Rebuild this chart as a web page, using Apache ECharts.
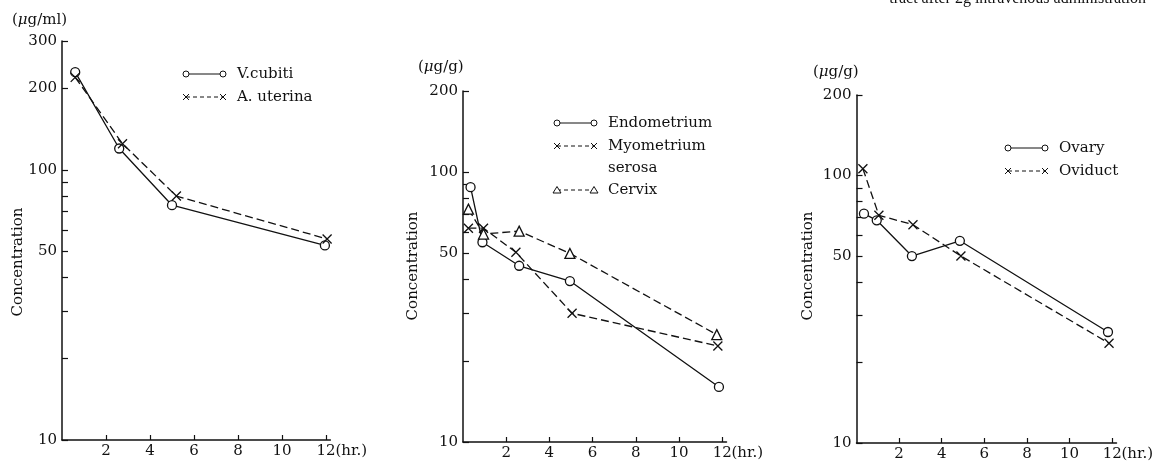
<!DOCTYPE html>
<html>
<head>
<meta charset="utf-8">
<script src="https://cdn.jsdelivr.net/npm/echarts@6/dist/echarts.min.js"></script>
<style>
  html, body { margin: 0; padding: 0; background: #fff; }
  #chart { width: 1157px; height: 464px; }
</style>
</head>
<body>
<div id="chart"></div>
<script>
// tick values
var xTicks = [2, 4, 6, 8, 10, 12];
var yTicks = [10, 20, 30, 40, 50, 60, 70, 80, 90, 100, 200, 300];
var yLabels1 = [10, 50, 100, 200, 300];
var yLabels23 = [10, 50, 100, 200];

// panel 1 : blood (ug/ml)
var vcubitiT = [0.6, 2.6, 5.0, 11.95];
var vcubiti = [230, 120, 74, 52.5];
var auterinaT = [0.6, 2.75, 5.2, 12.05];
var auterina = [220, 125, 80, 55.5];

// panel 2 : uterus (ug/g)
var endoT = [0.35, 0.9, 2.6, 4.95, 11.85];
var endo = [88, 55, 45, 39.5, 16];
var myoT = [0.25, 0.95, 2.45, 5.05, 11.8];
var myo = [62, 62, 50.5, 30, 22.7];
var cervixT = [0.25, 0.95, 2.6, 4.95, 11.75];
var cervix = [73, 59, 60.5, 50, 25];

// panel 3 : adnexa (ug/g)
var ovaryT = [0.35, 0.95, 2.6, 4.85, 11.8];
var ovary = [72, 68, 50, 57, 26];
var oviductT = [0.3, 1.05, 2.65, 4.9, 11.85];
var oviduct = [106, 71, 65.5, 50, 23.6];

var FONT = 'DejaVu Serif';
var INK = '#111';
var CROSS = 'path://M0,0L10,10M10,0L0,10';

function pts(t, v) {
  return t.map(function (x, i) { return [x, Math.log10(v[i])]; });
}
function lg(arr, max) {
  return arr.filter(function (v) { return v <= max + 0.01; }).map(Math.log10);
}

function xAxisFor(i) {
  return {
    type: 'value', gridIndex: i, min: 0, max: 12.2,
    axisLine: { lineStyle: { color: INK, width: 1.5 } },
    axisTick: { inside: true, length: 5, customValues: xTicks, lineStyle: { color: INK, width: 1.2 } },
    axisLabel: { customValues: xTicks, margin: 4, color: INK, fontFamily: FONT, fontSize: 15 },
    splitLine: { show: false },
    name: '(hr.)', nameLocation: 'end', nameGap: 5, nameMoveOverlap: false,
    nameTextStyle: { color: INK, fontFamily: FONT, fontSize: 15, verticalAlign: 'top', padding: [4, 0, 0, 0] }
  };
}
function yAxisFor(i, max, labels) {
  return {
    type: 'value', gridIndex: i, min: 1, max: Math.log10(max),
    axisLine: { show: true, lineStyle: { color: INK, width: 1.5 } },
    axisTick: { show: true, inside: true, length: 6, customValues: lg(yTicks, max), lineStyle: { color: INK, width: 1.2 } },
    axisLabel: {
      customValues: labels.map(Math.log10), margin: 5, color: INK, fontFamily: FONT, fontSize: 15,
      formatter: function (v) { return Math.round(Math.pow(10, v)); }
    },
    splitLine: { show: false }
  };
}

function line(i, name, data, kind, dashed) {
  var s = {
    name: name, type: 'line', xAxisIndex: i, yAxisIndex: i, data: data,
    lineStyle: { color: INK, width: 1.3, type: dashed ? [8, 4] : 'solid' },
    symbolSize: 9, z: 3
  };
  if (kind === 'circle') {
    s.symbol = 'circle';
    s.itemStyle = { color: '#fff', borderColor: INK, borderWidth: 1.3 };
  } else if (kind === 'triangle') {
    s.symbol = 'triangle'; s.symbolSize = 10;
    s.itemStyle = { color: '#fff', borderColor: INK, borderWidth: 1.3 };
  } else {
    s.symbol = CROSS; s.symbolSize = 9;
    s.itemStyle = { color: INK, borderColor: INK, borderWidth: 1.3 };
  }
  return s;
}

// hand drawn legend keys like the paper figure
function marker(kind, cx, cy) {
  if (kind === 'circle') {
    return [{ type: 'circle', shape: { cx: cx, cy: cy, r: 3 }, style: { fill: '#fff', stroke: INK, lineWidth: 1 }, z: 10 }];
  }
  if (kind === 'triangle') {
    return [{ type: 'polygon', shape: { points: [[cx, cy - 3.5], [cx + 4, cy + 3], [cx - 4, cy + 3]] }, style: { fill: '#fff', stroke: INK, lineWidth: 1 }, z: 10 }];
  }
  return [
    { type: 'line', shape: { x1: cx - 3, y1: cy - 3, x2: cx + 3, y2: cy + 3 }, style: { stroke: INK, lineWidth: 1 }, z: 10 },
    { type: 'line', shape: { x1: cx + 3, y1: cy - 3, x2: cx - 3, y2: cy + 3 }, style: { stroke: INK, lineWidth: 1 }, z: 10 }
  ];
}
function legendKey(x, y, kind, dashed, text) {
  var out = [{ type: 'line', shape: { x1: x, y1: y, x2: x + 37, y2: y }, style: { stroke: INK, lineWidth: 1, lineDash: dashed ? [4, 3] : null }, z: 9 }];
  out = out.concat(marker(kind, x, y), marker(kind, x + 37, y));
  out.push({ type: 'text', x: x + 51, y: y, style: { text: text, fill: INK, font: '15px "' + FONT + '"', verticalAlign: 'middle' }, z: 10 });
  return out;
}
function vtitle(x, y) {
  return { type: 'text', x: x, y: y, rotation: Math.PI / 2, style: { text: 'Concentration', fill: INK, font: '15px "' + FONT + '"', align: 'center', verticalAlign: 'middle' } };
}
function unit(x, y, u) {
  return {
    type: 'text', x: x, y: y,
    style: { text: '({m|μ}' + u + ')', fill: INK, font: '15px "' + FONT + '"', verticalAlign: 'middle',
      rich: { m: { fontStyle: 'italic', fontFamily: FONT, fontSize: 15 } } }
  };
}

var graphics = [
  // caption line of the page, cut off at the top edge
  { type: 'text', x: 1146, y: -9, style: { text: 'tract after 2g intravenous administration', fill: INK, font: '16px "Liberation Serif"', align: 'right' } },
  vtitle(18, 262), vtitle(413, 266), vtitle(808, 266),
  unit(12, 20, 'g/ml'), unit(418, 67, 'g/g'), unit(813, 72, 'g/g')
];
graphics = graphics
  .concat(legendKey(186, 74, 'circle', false, 'V.cubiti'))
  .concat(legendKey(186, 97, 'cross', true, 'A. uterina'))
  .concat(legendKey(557, 123, 'circle', false, 'Endometrium'))
  .concat(legendKey(557, 146, 'cross', true, 'Myometrium'))
  .concat([{ type: 'text', x: 608, y: 168, style: { text: 'serosa', fill: INK, font: '15px "' + FONT + '"', verticalAlign: 'middle' } }])
  .concat(legendKey(557, 190, 'triangle', true, 'Cervix'))
  .concat(legendKey(1008, 148, 'circle', false, 'Ovary'))
  .concat(legendKey(1008, 171, 'cross', true, 'Oviduct'));

var chart = echarts.init(document.getElementById('chart'));
var option = {
  animation: false,
  backgroundColor: '#fff',
  grid: [
    { left: 62, top: 41, width: 268.4, height: 399 },
    { left: 463, top: 91, width: 263.5, height: 351 },
    { left: 856.5, top: 95, width: 260, height: 348 }
  ],
  xAxis: [xAxisFor(0), xAxisFor(1), xAxisFor(2)],
  yAxis: [yAxisFor(0, 300, yLabels1), yAxisFor(1, 200, yLabels23), yAxisFor(2, 200, yLabels23)],
  series: [
    line(0, 'V.cubiti', pts(vcubitiT, vcubiti), 'circle', false),
    line(0, 'A. uterina', pts(auterinaT, auterina), 'cross', true),
    line(1, 'Endometrium', pts(endoT, endo), 'circle', false),
    line(1, 'Myometrium serosa', pts(myoT, myo), 'cross', true),
    line(1, 'Cervix', pts(cervixT, cervix), 'triangle', true),
    line(2, 'Ovary', pts(ovaryT, ovary), 'circle', false),
    line(2, 'Oviduct', pts(oviductT, oviduct), 'cross', true)
  ],
  graphic: graphics
};
chart.setOption(option);
</script>
</body>
</html>
